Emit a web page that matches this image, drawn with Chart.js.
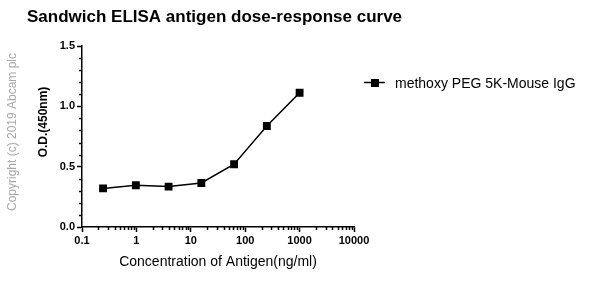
<!DOCTYPE html>
<html>
<head>
<meta charset="utf-8">
<script src="https://cdn.jsdelivr.net/npm/chart.js@4"></script>
<style>
  html, body { margin: 0; padding: 0; background: #fff; }
  #wrap { width: 589px; height: 286px; position: relative; }
</style>
</head>
<body>
<div id="wrap"><canvas id="myChart" width="589" height="286"></canvas></div>
<script>
// concentrations (ng/ml), 4-fold dilution from 1000
const concentrations = [0.244, 0.977, 3.906, 15.625, 62.5, 250, 1000];
const odValues = [0.32, 0.346, 0.335, 0.365, 0.52, 0.837, 1.113];
const seriesName = "methoxy PEG 5K-Mouse IgG";
const xTicks = [0.1, 1, 10, 100, 1000, 10000];
const yTicks = [0, 0.5, 1.0, 1.5];

const FONT = "'Liberation Sans', Arial, sans-serif";

// minor ticks + extra text drawn on the canvas
const extras = {
  id: "extras",
  afterDraw(chart) {
    const ctx = chart.ctx;
    const x = chart.scales.x;
    const y = chart.scales.y;
    const area = chart.chartArea;
    ctx.save();
    ctx.strokeStyle = "#000";
    ctx.lineWidth = 1.5;
    // minor x ticks
    for (let d = 0.1; d < 10000; d *= 10) {
      for (let k = 2; k <= 9; k++) {
        const px = Math.round(x.getPixelForValue(d * k)) + 0.5;
        ctx.beginPath();
        ctx.moveTo(px, area.bottom);
        ctx.lineTo(px, area.bottom + 3);
        ctx.stroke();
      }
    }
    // minor y ticks
    for (let v = 0.1; v < 1.5; v += 0.1) {
      if (Math.abs(v * 2 - Math.round(v * 2)) < 1e-6) continue;
      const py = Math.round(y.getPixelForValue(v)) + 0.5;
      ctx.beginPath();
      ctx.moveTo(area.left, py);
      ctx.lineTo(area.left - 3, py);
      ctx.stroke();
    }

    // title
    ctx.fillStyle = "#000";
    ctx.font = "bold 17px " + FONT;
    ctx.textBaseline = "middle";
    ctx.textAlign = "left";
    ctx.fillText("Sandwich ELISA antigen dose-response curve", 27, 17);

    // y axis title
    ctx.save();
    ctx.translate(44, 122);
    ctx.rotate(-Math.PI / 2);
    ctx.textAlign = "center";
    ctx.font = "bold 12px " + FONT;
    ctx.fillText("O.D.(450nm)", 0, 0);
    ctx.restore();

    // copyright
    ctx.save();
    ctx.translate(13, 132);
    ctx.rotate(-Math.PI / 2);
    ctx.textAlign = "center";
    ctx.fillStyle = "#a8a8a8";
    ctx.font = "12px " + FONT;
    ctx.fillText("Copyright (c) 2019 Abcam plc", 0, 0);
    ctx.restore();

    // legend
    ctx.lineWidth = 1.5;
    ctx.beginPath();
    ctx.moveTo(364, 82.5);
    ctx.lineTo(385, 82.5);
    ctx.stroke();
    ctx.fillRect(371, 79, 8, 8);
    ctx.font = "14px " + FONT;
    ctx.textAlign = "left";
    ctx.fillText(seriesName, 395, 84);
    ctx.restore();
  }
};

const data = {
  datasets: [
    {
      label: seriesName,
      data: concentrations.map((c, i) => ({ x: c, y: odValues[i] })),
      borderColor: "#000",
      backgroundColor: "#000",
      borderWidth: 1.5,
      pointStyle: "rect",
      pointRadius: 4.5,
      pointHoverRadius: 4.5,
      tension: 0,
    },
  ],
};

const config = {
  type: "line",
  data: data,
  options: {
    responsive: false,
    animation: false,
    layout: { padding: { left: 0, top: 46, right: 235, bottom: 0 } },
    plugins: {
      legend: { display: false },
      title: { display: false },
      tooltip: { enabled: false },
    },
    scales: {
      x: {
        type: "logarithmic",
        min: 0.1,
        max: 10000,
        afterBuildTicks: (scale) => {
          scale.ticks = xTicks.map((v) => ({ value: v }));
        },
        afterFit: (scale) => {
          scale.height = 59;
        },
        ticks: {
          color: "#000",
          font: { family: FONT, size: 11, weight: "bold" },
          padding: 2,
          maxRotation: 0,
          autoSkip: false,
          callback: (v) => String(v),
        },
        grid: {
          drawOnChartArea: false,
          drawTicks: true,
          tickLength: 5,
          tickColor: "#000",
          tickWidth: 1.5,
        },
        border: { color: "#000", width: 1.5 },
        title: {
          display: true,
          text: "Concentration of Antigen(ng/ml)",
          color: "#000",
          font: { family: FONT, size: 14 },
          padding: { top: 0, bottom: 15 },
        },
      },
      y: {
        min: 0,
        max: 1.5,
        afterBuildTicks: (scale) => {
          scale.ticks = yTicks.map((v) => ({ value: v }));
        },
        afterFit: (scale) => {
          scale.width = 82;
        },
        ticks: {
          color: "#000",
          font: { family: FONT, size: 11, weight: "bold" },
          padding: 2,
          callback: (v) => v.toFixed(1),
        },
        grid: {
          drawOnChartArea: false,
          drawTicks: true,
          tickLength: 5,
          tickColor: "#000",
          tickWidth: 1.5,
        },
        border: { color: "#000", width: 1.5 },
      },
    },
  },
  plugins: [extras],
};

const myChart = new Chart(document.getElementById("myChart").getContext("2d"), config);
</script>
</body>
</html>
